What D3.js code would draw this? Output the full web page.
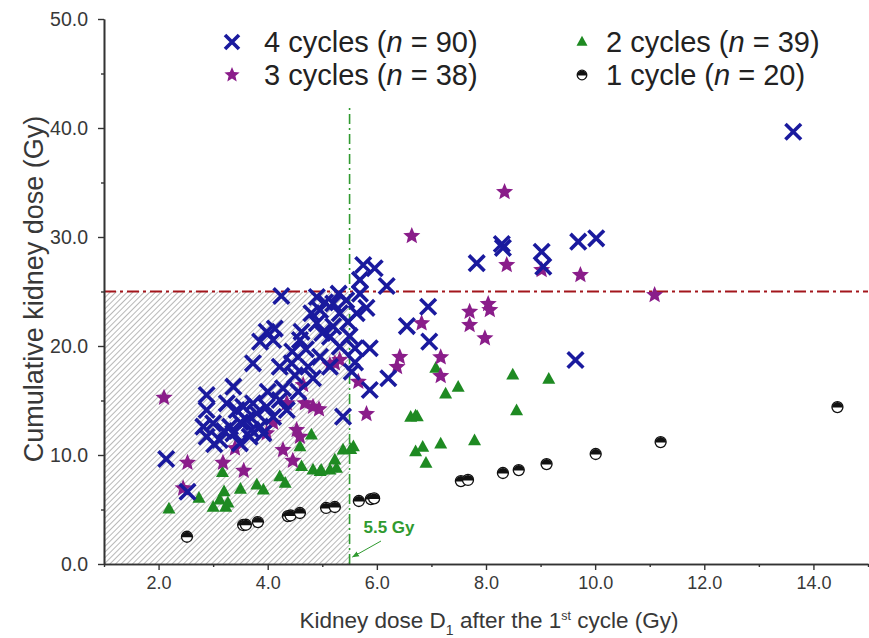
<!DOCTYPE html>
<html>
<head>
<meta charset="utf-8">
<script src="https://cdn.jsdelivr.net/npm/d3@7"></script>
<style>
  html, body { margin: 0; padding: 0; background: #fff; }
  svg { display: block; font-family: "Liberation Sans", Arial, sans-serif; }
</style>
</head>
<body>
<svg id="chart" width="869" height="638"></svg>
<script>
// Kidney dose after the first cycle (x, Gy) vs cumulative kidney dose (y, Gy)
const cycles4 = [
  [13.63,39.66],[9.69,29.57],[10.02,29.88],[9.02,28.65],[9.05,27.28],[9.64,18.72],
  [8.29,29.36],[8.31,29.0],[7.83,27.6],[6.94,23.6],[6.55,21.83],[6.96,20.40],
  [5.75,27.43],[5.96,27.13],[6.18,25.5],[5.69,26.06],[6.21,17.04],[5.87,15.96],
  [2.14,9.63],[2.53,6.63],[4.25,24.59],[4.90,24.5],[5.20,23.9],[5.44,24.2],[5.69,24.8],
  [4.96,23.3],[5.32,23.0],[5.63,23.0],[5.81,23.5],[4.90,22.1],[5.20,21.8],[5.47,22.2],
  [3.98,21.3],[4.13,21.6],[4.62,21.3],[3.86,20.4],[4.10,20.55],[4.59,20.55],[5.14,20.85],
  [5.32,19.94],[5.60,19.79],[5.87,19.79],[3.73,18.41],[4.22,18.1],[4.44,18.41],[4.74,18.1],
  [4.96,19.0],[5.14,18.1],[5.54,17.64],[2.88,15.5],[3.37,16.27],[4.28,16.12],[4.56,15.81],
  [4.83,17.04],[5.38,13.52],[2.88,14.13],[3.25,14.74],[3.43,14.13],[3.55,14.43],[3.80,13.83],
  [3.98,14.43],[4.22,15.05],[3.73,14.74],[2.82,12.6],[3.00,12.9],[3.31,12.6],[3.61,13.2],
  [3.86,12.6],[4.10,13.5],[4.35,14.13],[2.88,11.68],[3.12,11.38],[3.37,11.99],[3.49,11.07],
  [3.67,11.68],[3.92,11.99],
  [3.50,13.0],[3.20,12.2],[4.00,15.8],[4.50,17.3],[5.00,21.2],[5.05,24.0],[4.80,23.0],
  [5.50,20.9],[5.30,24.8],[3.02,11.0],[3.70,12.3],[4.45,19.5],[4.70,19.7],[5.60,18.5]
];
const cycles3 = [
  [2.10,15.26],[2.53,9.29],[2.45,6.94],[3.18,9.29],[3.40,10.61],[3.56,8.56],[3.98,11.99],
  [4.10,12.96],[4.28,10.46],[4.35,14.74],[4.46,9.48],[4.53,12.29],[4.59,11.68],[4.65,16.42],
  [4.68,14.74],[4.94,14.19],[5.14,18.26],[5.23,18.41],[5.32,18.72],[5.66,16.72],[5.81,13.76],
  [6.42,18.99],[6.37,18.07],[6.82,22.08],[6.64,30.09],[7.17,18.96],[7.17,17.25],[7.70,23.15],
  [7.70,21.93],[8.04,23.85],[8.07,23.30],[7.98,20.71],[8.34,34.13],[8.38,27.43],[9.02,26.97],
  [9.73,26.51],[11.09,24.68],[4.83,14.43]
];
const cycles2 = [
  [2.19,5.05],[2.74,6.03],[3.00,5.20],[3.12,5.87],[3.20,6.63],[3.17,8.38],[3.23,5.20],
  [3.50,6.85],[3.80,7.25],[3.92,6.79],[4.22,8.01],[4.32,7.40],[4.59,10.76],[4.62,8.93],
  [4.80,11.83],[4.83,8.62],[4.96,8.47],[5.14,8.62],[5.23,9.54],[5.26,8.78],[5.38,10.46],
  [5.57,10.76],[7.08,17.95],[7.26,15.60],[7.49,16.21],[6.62,13.46],[6.71,13.58],[6.71,10.30],
  [6.84,10.71],[6.90,9.24],[7.17,11.01],[7.79,11.31],[8.49,17.34],[8.56,14.06],[9.15,16.94],
  [4.98,8.60],[3.27,5.60],[6.74,13.50],[5.52,10.50]
];
const cycles1 = [
  [2.52,2.50],[3.55,3.58],[3.60,3.60],[3.82,3.85],[4.37,4.40],[4.42,4.45],[4.59,4.68],
  [5.07,5.14],[5.23,5.23],[5.67,5.78],[5.89,5.96],[5.95,6.02],[7.54,7.61],[7.67,7.71],
  [8.31,8.35],[8.60,8.62],[9.11,9.17],[10.01,10.09],[11.20,11.19],[14.44,14.40]
];
const xMajorTicks = [2, 4, 6, 8, 10, 12, 14];
const xMinorTicks = [1, 3, 5, 7, 9, 11, 13, 15];
const yMajorTicks = [0, 10, 20, 30, 40, 50];
const yMinorTicks = [5, 15, 25, 35, 45];
const doseLimit = 25;      // cumulative kidney dose limit (Gy)
const firstCycleCut = 5.5; // D1 threshold (Gy)
const cutLineTop = 42;
const legendItems = [
  {key: "c4", label: "4 cycles (", n: "90"},
  {key: "c3", label: "3 cycles (", n: "38"},
  {key: "c2", label: "2 cycles (", n: "39"},
  {key: "c1", label: "1 cycle (", n: "20"}
];

const svg = d3.select("#chart");
const x = d3.scaleLinear().domain([1, 15]).range([104, 868]);
const y = d3.scaleLinear().domain([0, 50]).range([564, 19]);

const COL = {
  c4: "#1a1a9e", c3: "#8a1d8a", c2: "#1e8a22", axis: "#333",
  limit: "#a3161c", cut: "#2f9a2f", text: "#383838"
};

// hatch pattern for the region below both thresholds
const defs = svg.append("defs");
const pat = defs.append("pattern").attr("id", "hatch")
  .attr("patternUnits", "userSpaceOnUse").attr("width", 4).attr("height", 4)
  .attr("patternTransform", "rotate(45)");
pat.append("line").attr("x1", 0).attr("y1", 0).attr("x2", 0).attr("y2", 4)
  .attr("stroke", "#7c7c7c").attr("stroke-width", 1.1);
defs.append("marker").attr("id", "arrow").attr("viewBox", "0 0 10 10")
  .attr("refX", 9).attr("refY", 5).attr("markerWidth", 7).attr("markerHeight", 7)
  .attr("orient", "auto-start-reverse")
  .append("path").attr("d", "M0,1 L10,5 L0,9 z").attr("fill", COL.cut);

svg.append("rect")
  .attr("x", x(1)).attr("y", y(doseLimit))
  .attr("width", x(firstCycleCut) - x(1)).attr("height", y(0) - y(doseLimit))
  .attr("fill", "url(#hatch)");

// reference lines
svg.append("line").attr("x1", x(1)).attr("x2", x(15))
  .attr("y1", y(doseLimit)).attr("y2", y(doseLimit))
  .attr("stroke", COL.limit).attr("stroke-width", 2.2)
  .attr("stroke-dasharray", "12,4,3,4");
svg.append("line").attr("x1", x(firstCycleCut)).attr("x2", x(firstCycleCut))
  .attr("y1", y(0)).attr("y2", y(cutLineTop))
  .attr("stroke", COL.cut).attr("stroke-width", 1.6)
  .attr("stroke-dasharray", "10,4,2,4");

// axes
function styleAxis(size) {
  return g => {
    g.attr("font-size", size).attr("font-family", "'Liberation Sans', Arial, sans-serif");
    g.select(".domain").attr("stroke", COL.axis).attr("stroke-width", 1.6);
    g.selectAll(".tick line").attr("stroke", COL.axis).attr("stroke-width", 1.4);
    g.selectAll(".tick text").attr("fill", COL.text);
  };
}
svg.append("g").attr("transform", `translate(0,${y(0)})`)
  .call(d3.axisBottom(x).tickValues(xMajorTicks).tickFormat(d3.format(".1f"))
    .tickSize(6).tickSizeOuter(0).tickPadding(6))
  .call(styleAxis(18));
svg.append("g").attr("transform", `translate(0,${y(0)})`)
  .call(d3.axisBottom(x).tickValues(xMinorTicks).tickFormat("").tickSize(3).tickSizeOuter(0))
  .call(styleAxis(18));
svg.append("g").attr("transform", `translate(${x(1)},0)`)
  .call(d3.axisLeft(y).tickValues(yMajorTicks).tickFormat(d3.format(".1f"))
    .tickSize(6).tickSizeOuter(0).tickPadding(10))
  .call(styleAxis(19.5));
svg.append("g").attr("transform", `translate(${x(1)},0)`)
  .call(d3.axisLeft(y).tickValues(yMinorTicks).tickFormat("").tickSize(3).tickSizeOuter(0))
  .call(styleAxis(19.5));

// axis titles
const xt = svg.append("text").attr("x", 489).attr("y", 628).attr("text-anchor", "middle")
  .attr("fill", COL.text).style("font-size", "22.5px");
xt.append("tspan").text("Kidney dose D");
xt.append("tspan").attr("dy", 7).style("font-size", "14px").text("1");
xt.append("tspan").attr("dy", -7).text(" after the 1");
xt.append("tspan").attr("dy", -8).style("font-size", "12.5px").text("st");
xt.append("tspan").attr("dy", 8).text(" cycle (Gy)");

svg.append("text").attr("transform", "translate(43,289) rotate(-90)")
  .attr("text-anchor", "middle").attr("fill", COL.text).style("font-size", "27px")
  .text("Cumulative kidney dose (Gy)");

// marker painters
function drawX(g, s) {
  g.append("path").attr("d", `M${-s},${-s}L${s},${s}M${-s},${s}L${s},${-s}`)
    .attr("stroke", COL.c4).attr("stroke-width", 3.6).attr("fill", "none");
}
function starPath(R, r) {
  let p = "";
  for (let i = 0; i < 10; i++) {
    const a = -Math.PI / 2 + i * Math.PI / 5, rad = i % 2 ? r : R;
    p += (i ? "L" : "M") + (rad * Math.cos(a)).toFixed(2) + "," + (rad * Math.sin(a)).toFixed(2);
  }
  return p + "Z";
}
function drawStar(g, R) {
  g.append("path").attr("d", starPath(R, R * 0.45)).attr("fill", COL.c3);
}
function drawTri(g, s) {
  const h = s * 0.9;
  g.append("path").attr("d", `M0,${-h * 0.62}L${s / 2},${h * 0.38}L${-s / 2},${h * 0.38}Z`)
    .attr("fill", COL.c2);
}
function drawHalf(g, r) {
  g.append("circle").attr("r", r).attr("fill", "#fff").attr("stroke", "#111").attr("stroke-width", 1.3);
  g.append("path").attr("d", `M${-r},0.5A${r},${r} 0 0 1 ${r},0.5Z`).attr("fill", "#111");
}

const plot = svg.append("g");
plot.selectAll("g.c1").data(cycles1).join("g").attr("class", "c1")
  .attr("transform", d => `translate(${x(d[0])},${y(d[1])})`)
  .each(function () { drawHalf(d3.select(this), 5.5); });
plot.selectAll("g.c2").data(cycles2).join("g").attr("class", "c2")
  .attr("transform", d => `translate(${x(d[0])},${y(d[1])})`)
  .each(function () { drawTri(d3.select(this), 13); });
plot.selectAll("g.c3").data(cycles3).join("g").attr("class", "c3")
  .attr("transform", d => `translate(${x(d[0])},${y(d[1])})`)
  .each(function () { drawStar(d3.select(this), 9); });
plot.selectAll("g.c4").data(cycles4).join("g").attr("class", "c4")
  .attr("transform", d => `translate(${x(d[0])},${y(d[1])})`)
  .each(function () { drawX(d3.select(this), 7.8); });

// annotation for the D1 threshold
svg.append("text").attr("x", 389).attr("y", 533).attr("text-anchor", "middle")
  .attr("fill", COL.cut).style("font-size", "17px").style("font-weight", "bold")
  .text(firstCycleCut.toFixed(1) + " Gy");
svg.append("line").attr("x1", 381).attr("y1", 541).attr("x2", x(firstCycleCut) + 3).attr("y2", 557)
  .attr("stroke", COL.cut).attr("stroke-width", 1).attr("marker-end", "url(#arrow)");

// legend
const legendPos = {c4: [232, 42], c3: [232, 75], c2: [582, 42], c1: [582, 75]};
const legendGap = {c4: 32, c3: 32, c2: 24, c1: 24};
legendItems.forEach(it => {
  const [lx, ly] = legendPos[it.key];
  const g = svg.append("g").attr("transform", `translate(${lx},${ly})`);
  if (it.key === "c4") drawX(g, 7);
  if (it.key === "c3") drawStar(g, 8);
  if (it.key === "c2") drawTri(g, 11);
  if (it.key === "c1") drawHalf(g, 4.8);
  const t = svg.append("text").attr("x", lx + legendGap[it.key]).attr("y", ly + 10)
    .attr("fill", "#222").style("font-size", "29px");
  t.append("tspan").text(it.label);
  t.append("tspan").style("font-style", "italic").text("n");
  t.append("tspan").text(" = " + it.n + ")");
});
</script>
</body>
</html>
